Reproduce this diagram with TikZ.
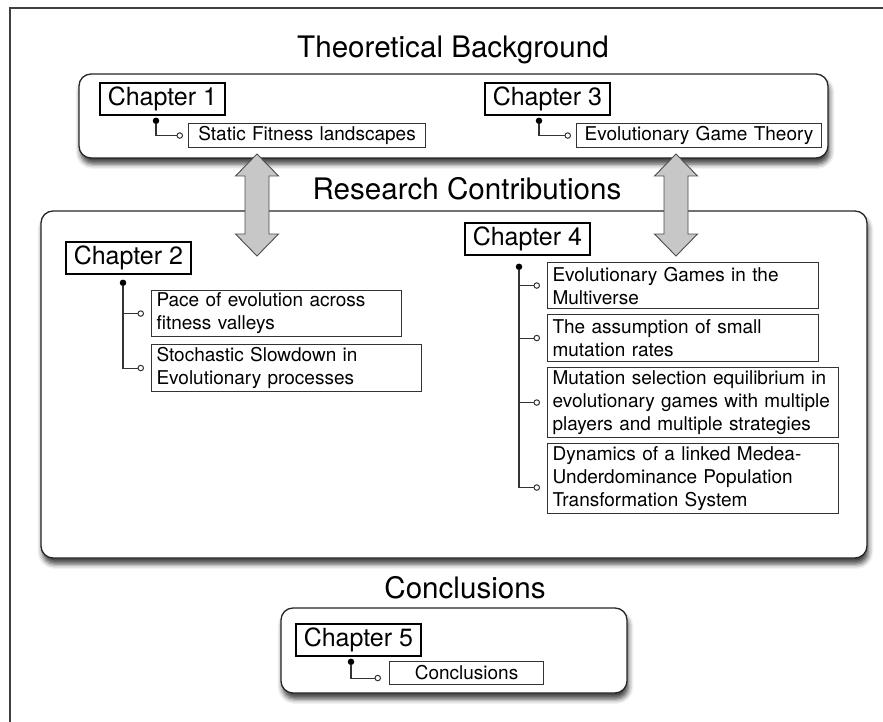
\documentclass[tikz,border=0pt]{standalone}
\usepackage{fontspec}
\setmainfont{TeX Gyre Heros}
\usetikzlibrary{arrows.meta, shadows, shadows.blur, positioning}
\tikzset{
    part/.style={draw=black!85, line width=1.3pt, fill=white, rounded corners=12pt,
        blur shadow={shadow xshift=1.5pt, shadow yshift=-6pt, shadow blur radius=5pt, shadow opacity=75}},
    parttitle/.style={anchor=base, inner sep=0pt, font=\fontsize{29.6}{34}\selectfont},
    chap/.style={draw, line width=1.8pt, anchor=north west, minimum width=125pt,
        minimum height=32pt, inner sep=0pt, font=\fontsize{25}{30}\selectfont},
    topic/.style 2 args={draw=black!80, line width=1.1pt, anchor=north west, inner xsep=5pt,
        inner ysep=0pt, align=left, text width=#1, minimum height=#2, font=\fontsize{19}{23}\selectfont},
    dot/.style={circle, fill=black, inner sep=0pt, minimum size=6.5pt},
    twig/.style={draw=black!80, line width=1.1pt, -{Circle[open, length=6.5pt, line width=1pt]}},
    updown/.style={draw=black!70, fill=black!22, line width=0.9pt, line join=miter}
}
\begin{document}
\begin{tikzpicture}[x=1pt, y=-1pt]
    \useasboundingbox (0,0) rectangle (883,722);
    \draw[line width=1.5pt, black!75] (10,722) -- (10,8) -- (883,8);
    % parts
    \draw[part] (79,74) rectangle (828,158);
    \draw[part] (41,211) rectangle (867,558);
    \draw[part] (281,608) rectangle (627,693);
    \node[parttitle] (t1) at (453,58) {Theoretical Background};
    \node[parttitle] (t2) at (467,200) {Research Contributions};
    \node[parttitle] (t3) at (465,598) {Conclusions};
    % chapters
    \node[chap] (ch1) at (99,82) {Chapter 1};
    \node[chap] (ch3) at (484,82) {Chapter 3};
    \node[chap] (ch2) at (65,241) {Chapter 2};
    \node[chap] (ch4) at (464,222) {Chapter 4};
    \node[chap] (ch5) at (295,623) {Chapter 5};
    % topics
    \node[topic={227pt}{24pt}, align=center] (static) at (188,123) {Static Fitness landscapes};
    \node[topic={235pt}{24pt}, align=center] (egt) at (576,123) {Evolutionary Game Theory};
    \node[topic={240pt}{46pt}] (pace) at (151,290) {Pace of evolution across\\fitness valleys};
    \node[topic={260pt}{47pt}] (slow) at (151,344) {Stochastic Slowdown in\\Evolutionary processes};
    \node[topic={261pt}{46pt}] (multi) at (547,262) {Evolutionary Games in the\\Multiverse};
    \node[topic={261pt}{47pt}] (small) at (547,314) {The assumption of small\\mutation rates};
    \node[topic={281pt}{70pt}] (mutsel) at (547,367) {Mutation selection equilibrium in\\evolutionary games with multiple\\players and multiple strategies};
    \node[topic={281pt}{70pt}] (medea) at (547,443) {Dynamics of a linked Medea-\\Underdominance Population\\Transformation System};
    \node[topic={144pt}{23pt}, align=center] (concl) at (389,661) {Conclusions};
    % stems
    \node[dot] (p1) at ([xshift=57pt,yshift=-5pt]ch1.south west) {};
    \node[dot] (p3) at ([xshift=55pt,yshift=-5pt]ch3.south west) {};
    \node[dot] (p2) at ([xshift=58pt,yshift=-8pt]ch2.south west) {};
    \node[dot] (p4) at ([xshift=55pt,yshift=-11pt]ch4.south west) {};
    \node[dot] (p5) at ([xshift=56pt,yshift=-5pt]ch5.south west) {};
    \draw[twig] (p1) |- ([xshift=-5pt]static.west);
    \draw[twig] (p3) |- ([xshift=-5pt]egt.west);
    \foreach \t in {pace,slow}
        \draw[twig] (p2) |- ([xshift=-7pt]\t.west);
    \foreach \t in {multi,small,mutsel}
        \draw[twig] (p4) |- ([xshift=-7pt]\t.west);
    \draw[twig] (p4) |- ([xshift=-7pt,yshift=-9pt]medea.west);
    \draw[twig] (p5) |- ([xshift=-8pt,yshift=-5pt]concl.west);
    % arrows between parts
    \foreach \ax in {257,676}
        \draw[updown] (\ax,154) -- ++(21.5,22) -- ++(-9.5,0) -- ++(0,58) -- ++(9.5,0)
            -- (\ax,256) -- ++(-21.5,-22) -- ++(9.5,0) -- ++(0,-58) -- ++(-9.5,0) -- cycle;
\end{tikzpicture}
\end{document}
